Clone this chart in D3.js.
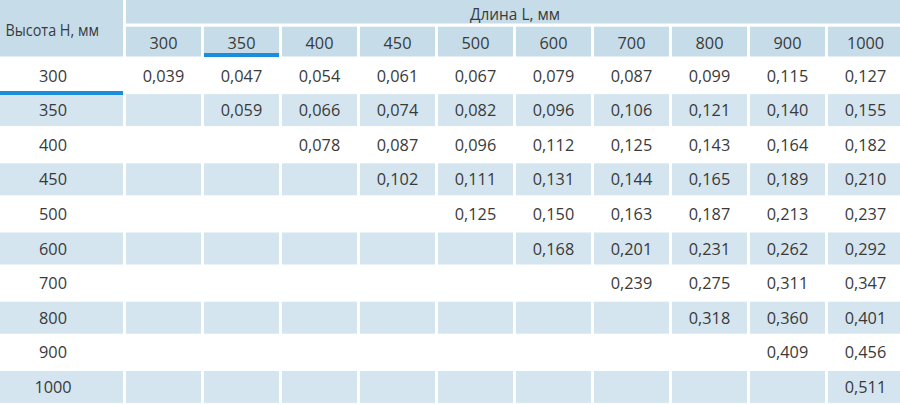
<!DOCTYPE html>
<html>
<head>
<meta charset="utf-8">
<script src="https://cdn.jsdelivr.net/npm/d3@7/dist/d3.min.js"></script>
<style>
  html, body { margin: 0; padding: 0; background: #ffffff; }
  svg { display: block; }
  text { font-family: "Open Sans", "Noto Sans", sans-serif; fill: #3a3a3a; }
</style>
</head>
<body>
<svg id="chart" width="900" height="405"></svg>
<script>
// ---- data ----
const lengths = ["300", "350", "400", "450", "500", "600", "700", "800", "900", "1000"];
const heights = ["300", "350", "400", "450", "500", "600", "700", "800", "900", "1000"];
const rowTitle = "Высота H, мм";
const colTitle = "Длина L, мм";
// values per height row (null = empty cell), columns follow `lengths`
const v300  = ["0,039", "0,047", "0,054", "0,061", "0,067", "0,079", "0,087", "0,099", "0,115", "0,127"];
const v350  = [null, "0,059", "0,066", "0,074", "0,082", "0,096", "0,106", "0,121", "0,140", "0,155"];
const v400  = [null, null, "0,078", "0,087", "0,096", "0,112", "0,125", "0,143", "0,164", "0,182"];
const v450  = [null, null, null, "0,102", "0,111", "0,131", "0,144", "0,165", "0,189", "0,210"];
const v500  = [null, null, null, null, "0,125", "0,150", "0,163", "0,187", "0,213", "0,237"];
const v600  = [null, null, null, null, null, "0,168", "0,201", "0,231", "0,262", "0,292"];
const v700  = [null, null, null, null, null, null, "0,239", "0,275", "0,311", "0,347"];
const v800  = [null, null, null, null, null, null, null, "0,318", "0,360", "0,401"];
const v900  = [null, null, null, null, null, null, null, null, "0,409", "0,456"];
const v1000 = [null, null, null, null, null, null, null, null, null, "0,511"];
const values = [v300, v350, v400, v450, v500, v600, v700, v800, v900, v1000];
const highlightCol = "350";
const highlightRow = "300";

// ---- layout ----
const svg = d3.select("#chart");
const headerFill = "#c6dde9";
const shadeFill = "#d4e5ef";
const accent = "#1a8ddb";

const x = d3.scaleBand().domain(lengths).range([126, 906]);   // step 78
const y = d3.scaleBand().domain(heights).range([57.5, 403.5]); // step 34.6
const cellW = x.step() - 3;
const cellH = y.step() - 2.6;

// header: left title cell
svg.append("rect").attr("x", 0).attr("y", 0).attr("width", 123).attr("height", 56.5).attr("fill", headerFill);
svg.append("text").attr("x", 5.5).attr("y", 29.5).attr("dominant-baseline", "central")
  .attr("font-size", 16).attr("textLength", 93.5).attr("lengthAdjust", "spacingAndGlyphs").text(rowTitle);

// header: top spanning cell
svg.append("rect").attr("x", 126).attr("y", 0).attr("width", 774).attr("height", 23.5).attr("fill", headerFill);
svg.append("text").attr("x", 470).attr("y", 13.5).attr("dominant-baseline", "central")
  .attr("font-size", 16).attr("textLength", 90).attr("lengthAdjust", "spacingAndGlyphs").text(colTitle);

// header: column cells
const hc = svg.append("g").selectAll("g").data(lengths).join("g");
hc.append("rect").attr("x", d => x(d)).attr("y", 26.7).attr("width", cellW).attr("height", 29.8).attr("fill", headerFill);
hc.append("text").attr("x", d => x(d) + cellW / 2).attr("y", 43).attr("text-anchor", "middle")
  .attr("dominant-baseline", "central").attr("font-size", 16.3).text(d => d);
svg.append("rect").attr("x", x(highlightCol)).attr("y", 53).attr("width", cellW).attr("height", 4).attr("fill", accent);

// body rows
const rows = svg.append("g").selectAll("g").data(heights).join("g");
rows.each(function (h, i) {
  const g = d3.select(this);
  const top = y(h) + 2;
  const shaded = i % 2 === 1;
  if (shaded) {
    g.append("rect").attr("x", 0).attr("y", top).attr("width", 123).attr("height", cellH).attr("fill", shadeFill);
    g.selectAll("rect.c").data(lengths).join("rect").attr("class", "c")
      .attr("x", d => x(d)).attr("y", top).attr("width", cellW).attr("height", cellH).attr("fill", shadeFill);
  }
  g.append("text").attr("x", 53).attr("y", top + cellH / 2).attr("text-anchor", "middle")
    .attr("dominant-baseline", "central").attr("font-size", 16.3).text(h);
  g.selectAll("text.v").data(values[i].map((v, j) => ({ v, l: lengths[j] })).filter(d => d.v !== null))
    .join("text").attr("class", "v")
    .attr("x", d => x(d.l) + cellW / 2).attr("y", top + cellH / 2).attr("text-anchor", "middle")
    .attr("dominant-baseline", "central").attr("font-size", 16.3).text(d => d.v);
});
svg.append("rect").attr("x", 0).attr("y", y(highlightRow) + 2 + cellH - 0.5).attr("width", 123).attr("height", 4).attr("fill", accent);
</script>
</body>
</html>
